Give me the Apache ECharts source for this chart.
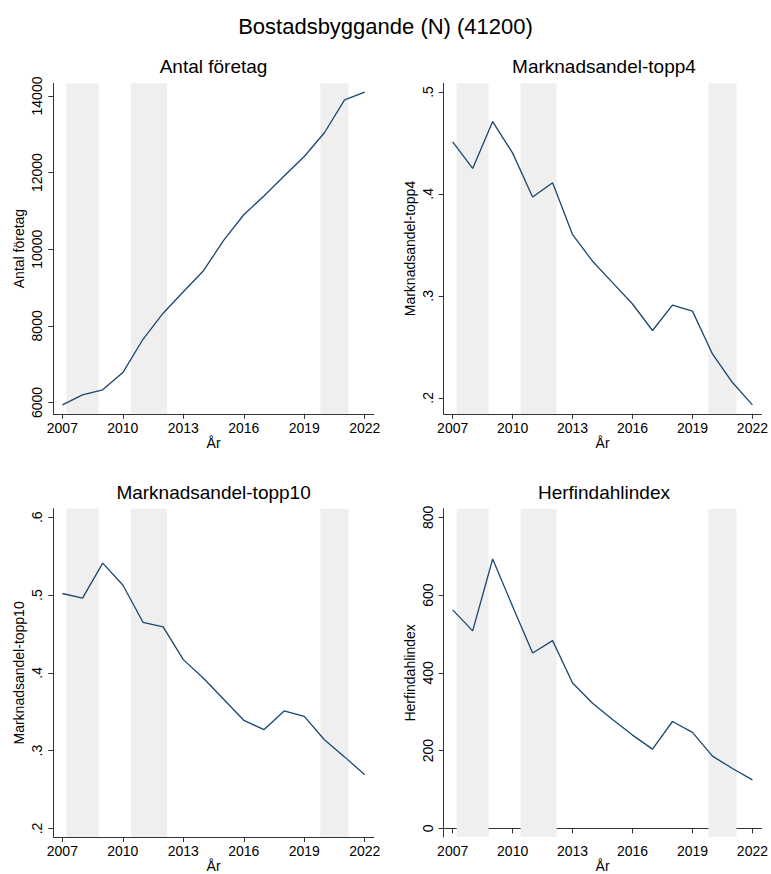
<!DOCTYPE html>
<html>
<head>
<meta charset="utf-8">
<script src="https://cdn.jsdelivr.net/npm/echarts@6/dist/echarts.min.js"></script>
<style>
  html, body { margin: 0; padding: 0; background: #ffffff; }
  #chart { width: 771px; height: 874px; }
</style>
</head>
<body>
<div id="chart"></div>
<script>
// Yearly series for the industry
const years = [2007, 2008, 2009, 2010, 2011, 2012, 2013, 2014, 2015, 2016, 2017, 2018, 2019, 2020, 2021, 2022];
const antalForetag = [5940, 6200, 6330, 6780, 7650, 8330, 8890, 9440, 10230, 10900, 11390, 11910, 12420, 13040, 13900, 14100];
const marknadsandelTopp4 = [0.451, 0.425, 0.471, 0.440, 0.397, 0.411, 0.360, 0.334, 0.313, 0.292, 0.266, 0.291, 0.285, 0.243, 0.215, 0.193];
const marknadsandelTopp10 = [0.502, 0.496, 0.541, 0.513, 0.465, 0.459, 0.417, 0.393, 0.366, 0.339, 0.327, 0.351, 0.344, 0.314, 0.292, 0.269];
const herfindahlIndex = [562, 508, 693, 571, 451, 483, 374, 322, 280, 240, 204, 275, 247, 186, 154, 125];

// Shaded periods (downturns), in fractional years
const shadedPeriods = [[2007.2, 2008.8], [2010.4, 2012.2], [2019.8, 2021.2]];

// Axis tick labels
const yearTicks = [2007, 2010, 2013, 2016, 2019, 2022];
const ticksAntal = [6000, 8000, 10000, 12000, 14000];
const ticksTopp4 = [0.2, 0.3, 0.4, 0.5];
const ticksTopp10 = [0.2, 0.3, 0.4, 0.5, 0.6];
const ticksHerfindahl = [0, 200, 400, 600, 800];

const mainTitle = 'Bostadsbyggande (N) (41200)';
const xName = 'År';

const FONT = '"Liberation Sans", Arial, Helvetica, sans-serif';
const LINE_COLOR = '#1a476f';
const AXIS_COLOR = '#333333';
const SHADE_COLOR = '#efefef';

const panels = [
  { title: 'Antal företag', values: antalForetag, ticks: ticksAntal, yMin: 5705, yMax: 14331,
    left: 53.3, top: 83.3 },
  { title: 'Marknadsandel-topp4', values: marknadsandelTopp4, ticks: ticksTopp4, yMin: 0.1843, yMax: 0.5085,
    left: 443.7, top: 83.3 },
  { title: 'Marknadsandel-topp10', values: marknadsandelTopp10, ticks: ticksTopp10, yMin: 0.1889, yMax: 0.611,
    left: 53.3, top: 508.7 },
  { title: 'Herfindahlindex', values: herfindahlIndex, ticks: ticksHerfindahl, yMin: -22.3, yMax: 822.3,
    left: 443.7, top: 508.7 }
];
const GRID_W = 320.5;
const GRID_H = 330.5;

// Stata-style number format: drop the leading zero (.5 instead of 0.5)
function fmt(v) {
  return String(Math.round(v * 1000) / 1000).replace(/^0\./, '.');
}

const grids = [], xAxes = [], yAxes = [], series = [], graphics = [];

graphics.push({
  type: 'text', left: 'center', top: 15,
  style: { text: mainTitle, font: '22px ' + FONT, fill: '#000' }
});

panels.forEach((p, i) => {
  grids.push({ left: p.left, top: p.top, width: GRID_W, height: GRID_H, containLabel: false });

  graphics.push({
    type: 'text', x: p.left + GRID_W / 2, y: p.top - 16.5,
    style: { text: p.title, font: '19px ' + FONT, fill: '#000', textAlign: 'center', textVerticalAlign: 'middle' }
  });

  xAxes.push({
    type: 'value', gridIndex: i, min: 2006.55, max: 2022.45,
    name: xName, nameLocation: 'middle', nameGap: 21,
    nameTextStyle: { fontFamily: FONT, fontSize: 14, color: '#000' },
    axisLine: { show: true, lineStyle: { color: AXIS_COLOR, width: 1 } },
    axisTick: { show: true, length: 5, customValues: yearTicks, lineStyle: { color: AXIS_COLOR } },
    axisLabel: { customValues: yearTicks, fontFamily: FONT, fontSize: 14, color: '#000', margin: 7,
      formatter: v => String(v) },
    splitLine: { show: false }
  });

  yAxes.push({
    type: 'value', gridIndex: i, min: p.yMin, max: p.yMax,
    name: p.title, nameLocation: 'middle', nameGap: 27, nameRotate: 90,
    nameTextStyle: { fontFamily: FONT, fontSize: 14, color: '#000' },
    axisLine: { show: true, lineStyle: { color: AXIS_COLOR, width: 1 } },
    axisTick: { show: true, length: 5, customValues: p.ticks, lineStyle: { color: AXIS_COLOR } },
    axisLabel: { customValues: p.ticks, rotate: 90, fontFamily: FONT, fontSize: 14, color: '#000', margin: 9,
      formatter: fmt },
    splitLine: { show: false }
  });

  series.push({
    type: 'line', xAxisIndex: i, yAxisIndex: i,
    data: years.map((y, k) => [y, p.values[k]]),
    showSymbol: false, symbol: 'none', smooth: false,
    lineStyle: { color: LINE_COLOR, width: 1.3 },
    silent: true, z: 3,
    markArea: {
      silent: true,
      itemStyle: { color: SHADE_COLOR, opacity: 1 },
      data: shadedPeriods.map(([a, b]) => [{ xAxis: a }, { xAxis: b }])
    }
  });
});

const chart = echarts.init(document.getElementById('chart'), null, { renderer: 'svg', width: 771, height: 874 });
chart.setOption({
  backgroundColor: '#ffffff',
  animation: false,
  textStyle: { fontFamily: FONT },
  grid: grids,
  xAxis: xAxes,
  yAxis: yAxes,
  series: series,
  graphic: graphics
});
</script>
</body>
</html>
